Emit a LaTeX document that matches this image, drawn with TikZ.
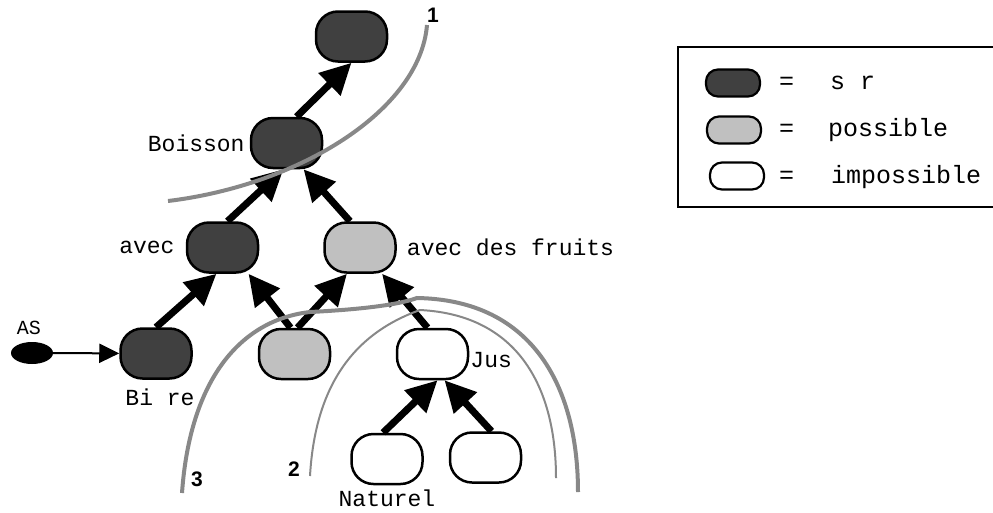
\documentclass[tikz,border=0pt]{standalone}
\usepackage{fontspec}
\setmonofont{Liberation Mono}
\newfontfamily\numfont{Liberation Sans}
\definecolor{dark}{RGB}{64,64,64}
\definecolor{light}{RGB}{192,192,192}
\definecolor{cut}{RGB}{136,136,136}
\usetikzlibrary{arrows.meta,positioning,shapes.geometric}

\begin{document}
\begin{tikzpicture}[x=1pt, y=-1pt,
    concept/.style={draw, line width=2.5pt, rectangle, rounded corners=22pt,
      minimum width=71pt, minimum height=50pt, inner sep=0pt},
    sure/.style={concept, fill=dark},
    maybe/.style={concept, fill=light},
    never/.style={concept, fill=white},
    key/.style={draw, line width=2.2pt, rectangle, rounded corners=12pt,
      minimum width=54pt, minimum height=27pt, inner sep=0pt},
    lbl/.style={font=\ttfamily\fontsize{23}{26}\selectfont, inner sep=1pt},
    keytxt/.style={font=\ttfamily\fontsize{25}{28}\selectfont, anchor=west, inner sep=0pt},
    num/.style={font=\numfont\bfseries\fontsize{21}{23}\selectfont, inner sep=0pt},
    link/.style={line width=7pt, -{Triangle[length=31pt,width=30pt]}},
    cutline/.style={draw=cut, line width=4pt},
    thincut/.style={draw=cut, line width=2pt}]
  \useasboundingbox (0,0) rectangle (993,512);
  %% Concepts
  \node[sure]  (top)     at (351.5,36.5) {};
  \node[sure]  (boisson) at (286.5,143) {};
  \node[sure]  (avec)    at (222.5,247.5) {};
  \node[maybe] (fruits)  at (360,247.5) {};
  \node[sure]  (biere)   at (156,353.5) {};
  \node[maybe] (mid)     at (294.5,354) {};
  \node[never] (jus)     at (432.5,354) {};
  \node[never] (naturel) at (387,459) {};
  \node[never] (autre)   at (485.5,457.5) {};
  \node[fill, ellipse, minimum width=42pt, minimum height=22pt, inner sep=0pt] (as) at (32,353) {};
  %% Labels
  \node[lbl, left=4pt of boisson] {Boisson};
  \node[lbl, left=10pt of avec] {avec};
  \node[lbl, right=9pt of fruits] {avec des fruits};
  \node[lbl, anchor=west] at ([yshift=-6pt]jus.east) {Jus};
  \node[lbl, below=8pt of biere, xshift=4pt] {Bi re};
  \node[lbl, below=3pt of naturel] {Naturel};
  \node[font=\ttfamily\fontsize{20}{22}\selectfont, inner sep=0pt] (aslbl) at (29,328) {AS};
  %% Links
  \draw[line width=2pt, -{Triangle[length=20pt,width=19pt]}] (as) -- (biere);
  \draw[link] (biere.north) -- ([xshift=-6pt]avec.south);
  \draw[link] ([xshift=-4pt]mid.north) -- ([xshift=26pt]avec.south);
  \draw[link] ([xshift=3pt]mid.north) -- ([xshift=-13pt]fruits.south);
  \draw[link] ([xshift=-5pt]jus.north) -- ([xshift=22pt]fruits.south);
  \draw[link] ([xshift=5pt]avec.north) -- ([xshift=-3pt]boisson.south);
  \draw[link] ([xshift=-10pt]fruits.north) -- ([xshift=17pt]boisson.south);
  \draw[link] ([xshift=10pt]boisson.north) -- (top.south);
  \draw[link] ([xshift=-4pt]naturel.north) -- ([xshift=5pt]jus.south);
  \draw[link] ([xshift=6pt]autre.north) -- ([xshift=12pt]jus.south);
  %% Cuts
  \draw[cutline] (168,201) .. controls (300,185) and (420,110) .. (427,25);
  \draw[cutline] (182,493) .. controls (190,380) and (240,320) .. (310,312)
    .. controls (350,310) and (395,306) .. (417,298)
    .. controls (535,300) and (578,390) .. (578,492);
  \draw[thincut] (310,476) .. controls (315,390) and (350,335) .. (420,310)
    .. controls (520,315) and (556,390) .. (556,478);
  \node[num] (n1) at (433,15) {1};
  \node[num] (n2) at (294,469) {2};
  \node[num] (n3) at (197,479) {3};
  %% Legend
  \draw[line width=2pt] (995,47) -- (678,47) -- (678,207) -- (995,207);
  \node[key, fill=dark]  (k1) at (733,83) {};
  \node[key, fill=light] (k2) at (734,130) {};
  \node[key, fill=white] (k3) at (737,176) {};
  \node[keytxt] at (779,83) {=};
  \node[keytxt] at (779,130) {=};
  \node[keytxt] at (779,177) {=};
  \node[keytxt] at (830,83) {s r};
  \node[keytxt] at (828,130) {possible};
  \node[keytxt] at (831,177) {impossible};
\end{tikzpicture}
\end{document}
